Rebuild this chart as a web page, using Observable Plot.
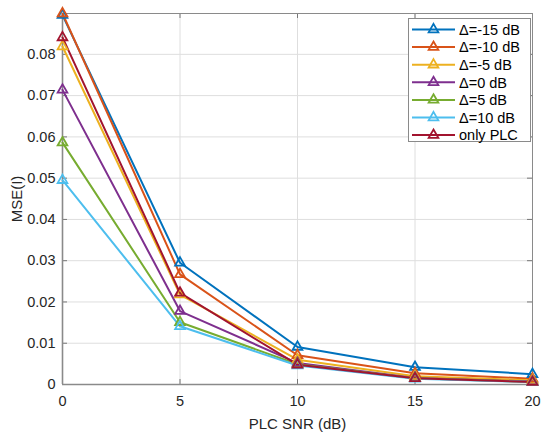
<!DOCTYPE html>
<html>
<head>
<meta charset="utf-8">
<script src="https://cdn.jsdelivr.net/npm/d3@7"></script>
<script src="https://cdn.jsdelivr.net/npm/@observablehq/plot@0.6"></script>
<style>
  body { margin: 0; background: #fff; }
  #wrap { position: relative; width: 550px; height: 439px; font-family: "Liberation Sans", Arial, sans-serif; }
  #legend { position: absolute; }
</style>
</head>
<body>
<div id="wrap"></div>
<script>
const snr = [0, 5, 10, 15, 20];
const seriesNames = ["Δ=-15 dB", "Δ=-10 dB", "Δ=-5 dB", "Δ=0 dB", "Δ=5 dB", "Δ=10 dB", "only PLC"];
const seriesColors = ["#0072BD", "#D95319", "#EDB120", "#7E2F8E", "#77AC30", "#4DBEEE", "#A2142F"];
const dm15 = [0.0895, 0.0295, 0.0091, 0.0042, 0.0025];
const dm10 = [0.0899, 0.0267, 0.0071, 0.0027, 0.0014];
const dm5  = [0.0819, 0.0218, 0.0060, 0.0020, 0.0010];
const d0   = [0.0714, 0.0178, 0.0052, 0.0016, 0.0007];
const dp5  = [0.0586, 0.0151, 0.0049, 0.0015, 0.0006];
const dp10 = [0.0495, 0.0141, 0.0046, 0.0014, 0.0006];
const plcOnly = [0.0841, 0.0222, 0.0048, 0.0015, 0.0006];
const yTicks = [0, 0.01, 0.02, 0.03, 0.04, 0.05, 0.06, 0.07, 0.08];
const xTicks = [0, 5, 10, 15, 20];

const allSeries = [dm15, dm10, dm5, d0, dp5, dp10, plcOnly];
const rows = [];
allSeries.forEach((vals, i) => vals.forEach((v, j) => rows.push({s: seriesNames[i], x: snr[j], y: v})));

const W = 550, H = 439, mL = 62, mR = 18, mT = 13, mB = 55;
const font = "Liberation Sans, Arial, sans-serif";

const chart = Plot.plot({
  width: W, height: H,
  marginLeft: mL, marginRight: mR, marginTop: mT, marginBottom: mB,
  style: {fontFamily: font, fontSize: "14px", color: "#262626", background: "#fff"},
  x: {domain: [0, 20], ticks: xTicks},
  y: {domain: [0, 0.0899], ticks: yTicks},
  color: {domain: seriesNames, range: seriesColors},
  marks: [
    Plot.gridX(xTicks, {stroke: "#dedede", strokeOpacity: 1}),
    Plot.gridY(yTicks, {stroke: "#dedede", strokeOpacity: 1}),
    Plot.tickY(yTicks, {y: d => d, stroke: "#777", insetRight: W - mL - mR - 5}),
    Plot.tickY(yTicks, {y: d => d, stroke: "#777", insetLeft: W - mL - mR - 5}),
    Plot.tickX(xTicks, {x: d => d, stroke: "#777", insetTop: H - mT - mB - 5}),
    Plot.tickX(xTicks, {x: d => d, stroke: "#777", insetBottom: H - mT - mB - 5}),
    Plot.frame({stroke: "#8a8a8a", strokeWidth: 1}),
    Plot.ruleY([0], {stroke: "#8a8a8a", strokeWidth: 1.6}),
    Plot.ruleX([0], {stroke: "#8a8a8a", strokeWidth: 1.6}),
    Plot.axisX(xTicks, {tickSize: 0, tickPadding: 11, fontSize: 14.5, label: null}),
    Plot.axisY(yTicks, {tickSize: 0, tickPadding: 7, fontSize: 14.5, label: null,
      tickFormat: d => d === 0 ? "0" : d.toFixed(2)}),
    Plot.axisX({tickSize: 0, ticks: [], label: "PLC SNR (dB)", labelAnchor: "center", labelArrow: "none", labelOffset: 44, fontSize: 15}),
    Plot.axisY({tickSize: 0, ticks: [], label: "MSE(I)", labelAnchor: "center", labelArrow: "none", labelOffset: 51, fontSize: 15}),
    Plot.line(rows, {x: "x", y: "y", z: "s", stroke: "s", strokeWidth: 2}),
    Plot.dot(rows, {x: "x", y: "y", stroke: "s", symbol: "triangle", r: 3.6, strokeWidth: 1.8, fill: "none"})
  ]
});

const wrap = document.getElementById("wrap");
wrap.appendChild(chart);

// legend overlay (MATLAB style, inside the axes, top right)
const lw = 122, lh = 123, rowH = 17.6;
const leg = d3.select(wrap).append("svg")
  .attr("id", "legend")
  .attr("width", lw + 2).attr("height", lh + 2)
  .style("left", (408) + "px").style("top", (18) + "px");
leg.append("rect").attr("x", 0.5).attr("y", 0.5).attr("width", lw).attr("height", lh)
  .attr("fill", "#fff").attr("stroke", "#8a8a8a").attr("stroke-width", 1);
seriesNames.forEach((name, i) => {
  const cy = 11.5 + i * rowH;
  const g = leg.append("g");
  g.append("line").attr("x1", 4).attr("x2", 47).attr("y1", cy).attr("y2", cy)
    .attr("stroke", seriesColors[i]).attr("stroke-width", 2);
  g.append("path").attr("d", d3.symbol(d3.symbolTriangle, Math.PI * 3.6 * 3.6)())
    .attr("transform", `translate(25.5,${cy})`)
    .attr("fill", "none").attr("stroke", seriesColors[i]).attr("stroke-width", 1.8);
  g.append("text").attr("x", 51).attr("y", cy).attr("dy", "0.36em")
    .attr("font-family", font).attr("font-size", 14.5).attr("fill", "#000").text(name);
});
</script>
</body>
</html>
